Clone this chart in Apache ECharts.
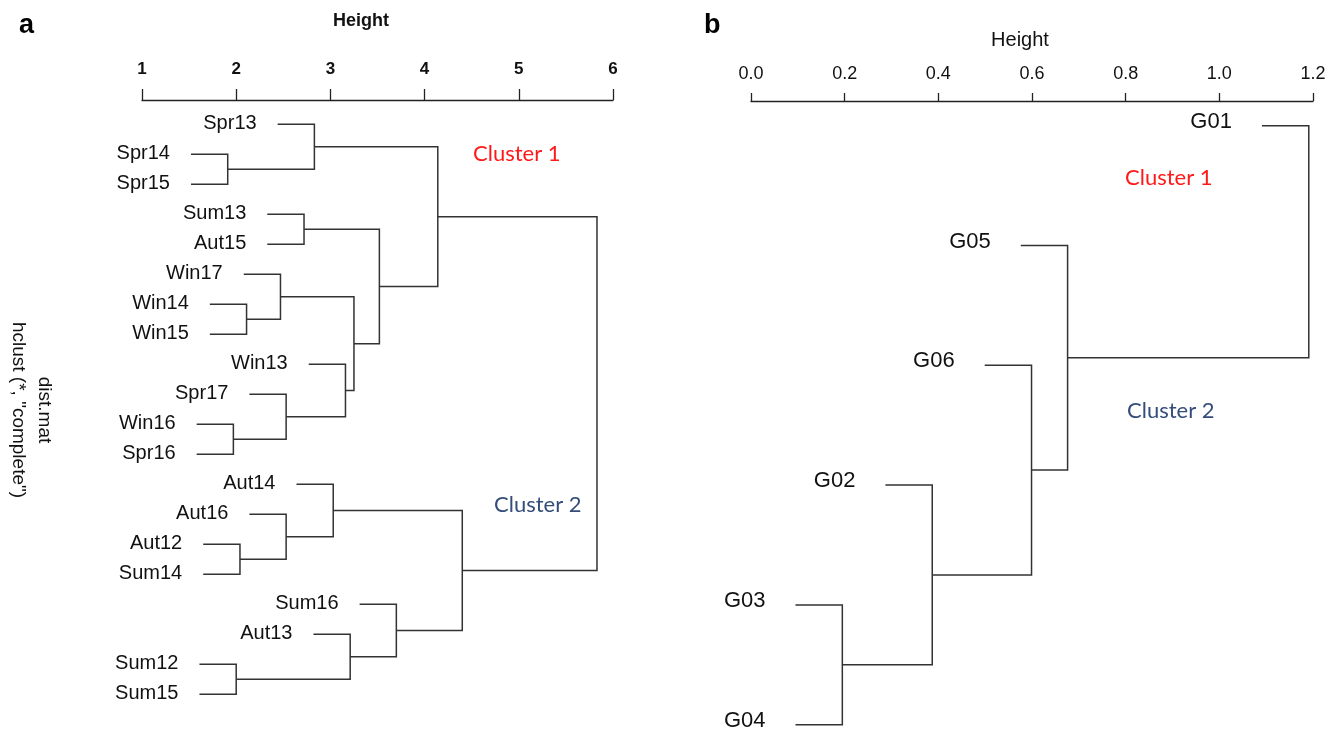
<!DOCTYPE html>
<html><head><meta charset="utf-8">
<script src="https://cdn.jsdelivr.net/npm/echarts@6/dist/echarts.min.js"></script>
<style>html,body{margin:0;padding:0;background:#fff}#c{width:1338px;height:733px}</style>
</head><body><div id="c"></div><script>
// ---------- Panel a data ----------
const leavesA = ['Spr13','Spr14','Spr15','Sum13','Aut15','Win17','Win14','Win15','Win13','Spr17',
  'Win16','Spr16','Aut14','Aut16','Aut12','Sum14','Sum16','Aut13','Sum12','Sum15'];
// merge pairs (negative = leaf number, positive = earlier merge number), R hclust style
const mergesA = [[-2,-3],[-1,1],[-4,-5],[-7,-8],[-6,4],[-11,-12],[-10,6],[-9,7],[5,8],[3,9],[2,10],
  [-15,-16],[-14,12],[-13,13],[-19,-20],[-18,15],[-17,16],[14,17],[11,18]];
const heightsA = [1.91,2.83,2.72,2.11,2.47,1.97,2.53,3.16,3.25,3.52,4.14,
  2.04,2.53,3.03,2.00,3.21,3.70,4.40,5.83];
const hangA = 0.39;
const ticksA = [1,2,3,4,5,6];
const axisTitleA = 'Height';
const clusterTextA = ['Cluster 1','Cluster 2'];

// ---------- Panel b data ----------
const leavesB = ['G01','G05','G06','G02','G03','G04'];
const mergesB = [[-5,-6],[-4,1],[-3,2],[-2,3],[-1,4]];
const heightsB = [0.195,0.387,0.599,0.676,1.191];
const hangB = 0.10;
const ticksB = [0,0.2,0.4,0.6,0.8,1.0,1.2];
const axisTitleB = 'Height';
const clusterTextB = ['Cluster 1','Cluster 2'];

function buildTree(leaves, merges, heights, hang){
  const pos = [], segs = [], leafH = new Array(leaves.length);
  merges.forEach((m,k)=>{
    const h = heights[k];
    const pts = m.map(c=>{
      if(c<0){ const i=-c-1; leafH[i]=h-hang; return [h-hang, i]; }
      return [heights[c-1], pos[c-1]];
    });
    pos[k] = (pts[0][1]+pts[1][1])/2;
    segs.push([pts[0][0],pts[0][1], h,pts[0][1], h,pts[1][1], pts[1][0],pts[1][1]]);
  });
  const labels = leaves.map((n,i)=>[leafH[i], i]);
  return {segs, labels};
}
const treeA = buildTree(leavesA, mergesA, heightsA, hangA);
const treeB = buildTree(leavesB, mergesB, heightsB, hangB);

const LINE = '#333333';
function treeRender(params, api){
  const p = [];
  for(let j=0;j<4;j++) p.push(api.coord([api.value(2*j), api.value(2*j+1)]));
  return {type:'polyline', shape:{points:p}, style:{stroke:LINE, lineWidth:1.5, fill:null}};
}
function labelRender(names, gap, font, dy){
  return function(params, api){
    const pt = api.coord([api.value(0), api.value(1)]);
    return {type:'text', x: pt[0]-gap, y: pt[1]+dy,
      style:{text: names[params.dataIndex], align:'right', verticalAlign:'middle',
        font: font, fill:'#111'}};
  };
}

const chart = echarts.init(document.getElementById('c'), null, {renderer:'canvas'});
chart.setOption({
  animation:false,
  backgroundColor:'#fff',
  grid:[
    {left:142, width:471, top:100, height:600, outerBoundsMode:'none'},
    {left:751, width:562, top:101, height:623.7, outerBoundsMode:'none'}
  ],
  xAxis:[
    {gridIndex:0, type:'value', position:'top', min:ticksA[0], max:ticksA[ticksA.length-1], interval:1,
     axisLine:{show:true, onZero:false, lineStyle:{color:'#222', width:1.3}},
     axisTick:{show:true, length:11, lineStyle:{color:'#222', width:1.3}},
     axisLabel:{margin:22, fontSize:17, fontWeight:'bold', color:'#111', fontFamily:'Liberation Sans Narrow, Liberation Sans, Arial'},
     splitLine:{show:false}},
    {gridIndex:1, type:'value', position:'top', min:ticksB[0], max:ticksB[ticksB.length-1], interval:0.2,
     axisLine:{show:true, onZero:false, lineStyle:{color:'#222', width:1.3}},
     axisTick:{show:true, length:8, lineStyle:{color:'#222', width:1.3}},
     axisLabel:{margin:18, fontSize:18, color:'#111', fontFamily:'Liberation Sans Narrow, Liberation Sans, Arial',
       formatter:v=>v.toFixed(1)},
     splitLine:{show:false}}
  ],
  yAxis:[
    {gridIndex:0, type:'value', inverse:true, min:-0.81, max:19.19, show:false},
    {gridIndex:1, type:'value', inverse:true, min:-0.206, max:5, show:false}
  ],
  series:[
    {type:'custom', xAxisIndex:0, yAxisIndex:0, data:treeA.segs, renderItem:treeRender, clip:false, silent:true},
    {type:'custom', xAxisIndex:0, yAxisIndex:0, data:treeA.labels,
      renderItem:labelRender(leavesA, 21, '20px "Liberation Sans", Arial', -1), clip:false, silent:true},
    {type:'custom', xAxisIndex:1, yAxisIndex:1, data:treeB.segs, renderItem:treeRender, clip:false, silent:true},
    {type:'custom', xAxisIndex:1, yAxisIndex:1, data:treeB.labels,
      renderItem:labelRender(leavesB, 30, '22px "Liberation Sans Narrow", "Liberation Sans", Arial', -4), clip:false, silent:true}
  ],
  graphic:[
    {type:'text', left:19, top:12, style:{text:'a', font:'bold 27px "Liberation Sans", Arial', fill:'#000'}},
    {type:'text', left:704, top:12, style:{text:'b', font:'bold 27px "Liberation Sans", Arial', fill:'#000'}},
    {type:'text', x:361, y:21, style:{text:axisTitleA, font:'bold 18px "Liberation Sans", Arial', fill:'#111', align:'center', verticalAlign:'middle'}},
    {type:'text', x:1020, y:40, style:{text:axisTitleB, font:'20px "Liberation Sans", Arial', fill:'#111', align:'center', verticalAlign:'middle'}},
    {type:'text', x:473, y:154, style:{text:clusterTextA[0], font:'22px Lato', fill:'#ff1a1a', verticalAlign:'middle'}},
    {type:'text', x:494, y:505, style:{text:clusterTextA[1], font:'22px Lato', fill:'#344d7a', verticalAlign:'middle'}},
    {type:'text', x:1125, y:178, style:{text:clusterTextB[0], font:'22px Lato', fill:'#ff1a1a', verticalAlign:'middle'}},
    {type:'text', x:1127, y:411, style:{text:clusterTextB[1], font:'22px Lato', fill:'#344d7a', verticalAlign:'middle'}},
    {type:'text', x:44, y:410, rotation:-Math.PI/2,
      style:{text:'dist.mat', font:'19px "Liberation Sans", Arial', fill:'#111', align:'center', verticalAlign:'middle'}},
    {type:'text', x:18, y:410, rotation:-Math.PI/2,
      style:{text:'hclust (*, "complete")', font:'19px "Liberation Sans", Arial', fill:'#111', align:'center', verticalAlign:'middle'}}
  ]
});
</script></body></html>
